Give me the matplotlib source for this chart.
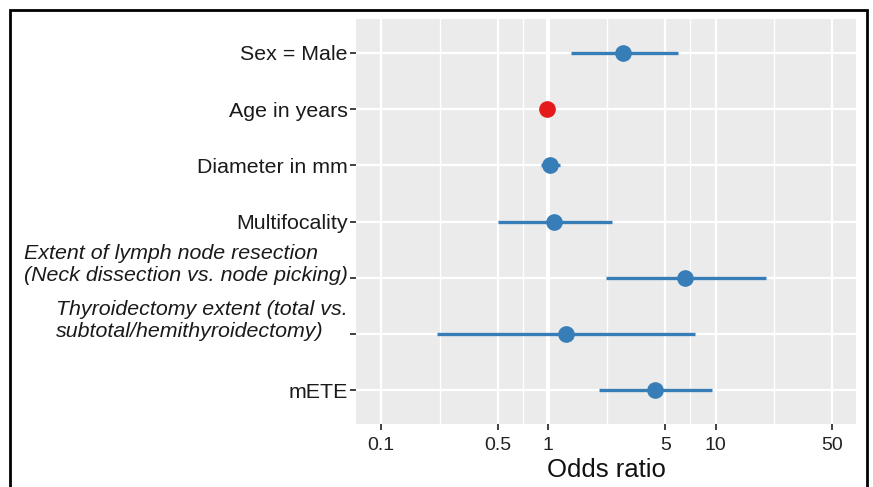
import numpy as np
import matplotlib
matplotlib.use("Agg")
import matplotlib.pyplot as plt
import matplotlib.transforms as mtransforms
from matplotlib.patches import Rectangle

# data
labels = [
    "Sex = Male",
    "Age in years",
    "Diameter in mm",
    "Multifocality",
    "Extent of lymph node resection\n(Neck dissection vs. node picking)",
    "Thyroidectomy extent (total vs.\nsubtotal/hemithyroidectomy)",
    "mETE",
]
italic = [False, False, False, False, True, True, False]
odds = [2.81, 0.98, 1.03, 1.08, 6.6, 1.27, 4.35]
ci_low = [1.37, 0.96, 0.91, 0.50, 2.2, 0.217, 2.02]
ci_high = [5.98, 1.00, 1.18, 2.41, 19.9, 7.58, 9.5]
colors = ["#377EB8", "#E41A1C", "#377EB8", "#377EB8", "#377EB8", "#377EB8", "#377EB8"]
x_ticks = [0.1, 0.5, 1, 5, 10, 50]
x_ticklabels = ["0.1", "0.5", "1", "5", "10", "50"]

plt.rcParams["font.family"] = ["Liberation Sans", "DejaVu Sans"]

fig = plt.figure(figsize=(8.73, 4.87), dpi=100)
ax = fig.add_axes([356 / 873, 1 - 424 / 487, 500 / 873, 405 / 487])
ax.set_facecolor("#EBEBEB")
for s in ax.spines.values():
    s.set_visible(False)

ax.set_xscale("log")
ax.set_xlim(10 ** -1.15, 10 ** 1.84)
ax.set_ylim(len(labels) - 0.4, -0.6)

# grid: major, minor (geometric midpoints) and the reference line at 1
minor = [np.sqrt(a * b) for a, b in zip(x_ticks[:-1], x_ticks[1:])]
for m in minor:
    ax.axvline(m, color="white", lw=1.0, zorder=0)
for t in x_ticks:
    ax.axvline(t, color="white", lw=1.6, zorder=0)
ax.axvline(1, color="white", lw=2.8, zorder=0)
y = np.arange(len(labels))
for yy in y:
    ax.axhline(yy, color="white", lw=1.6, zorder=0)

for i in range(len(labels)):
    ax.plot([ci_low[i], ci_high[i]], [y[i], y[i]], color=colors[i], lw=2.4,
            solid_capstyle="butt", zorder=2)
    ax.plot(odds[i], y[i], "o", color=colors[i], ms=11, zorder=3)

ax.set_xticks(x_ticks)
ax.set_xticklabels(x_ticklabels)
ax.xaxis.set_minor_locator(matplotlib.ticker.NullLocator())
ax.set_yticks(y)
ax.set_yticklabels(labels)
ax.tick_params(axis="x", length=4, width=1.3, color="#333333", pad=5,
               labelsize=14, labelcolor="#222222")
ax.tick_params(axis="y", length=4, width=1.3, color="#333333", pad=2,
               labelsize=15.4, labelcolor="#1a1a1a")

offset = mtransforms.ScaledTranslation(0, -5 / 72, fig.dpi_scale_trans)
for lab, it in zip(ax.get_yticklabels(), italic):
    if it:
        lab.set_style("italic")
        lab.set_multialignment("left")
        lab.set_verticalalignment("bottom")
        lab.set_transform(lab.get_transform() + offset)

ax.set_xlabel("Odds ratio", fontsize=18.5, color="#111111", labelpad=3)

# black frame around the whole figure (open at the bottom)
fig.patches.append(Rectangle((9.5 / 873, -0.05), 857 / 873, 1.05 - 9.5 / 487,
                             transform=fig.transFigure, fill=False,
                             edgecolor="black", lw=2, zorder=10))

fig.savefig("out.png", dpi=100)
